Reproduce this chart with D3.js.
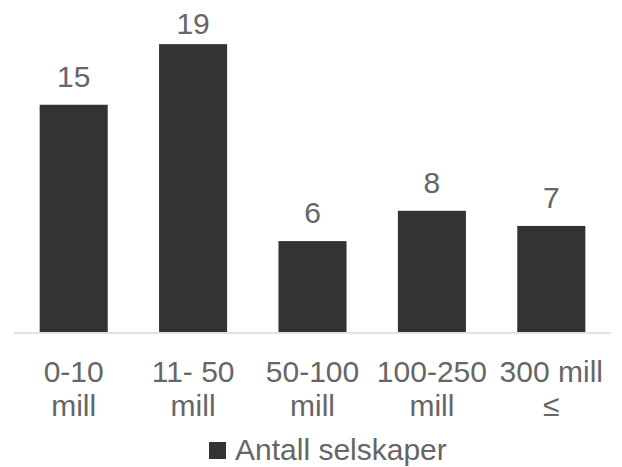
<!DOCTYPE html>
<html lang="no">
<head>
<meta charset="UTF-8">
<title>Antall selskaper</title>
<script src="https://cdn.jsdelivr.net/npm/d3@7"></script>
<style>
  body { margin: 0; background: #fff; }
  svg text { font-family: "Liberation Sans", Arial, sans-serif; fill: #666666; }
</style>
</head>
<body>
<div id="chart"></div>
<script>
// data
var categories = ["0-10 mill", "11- 50 mill", "50-100 mill", "100-250 mill", "300 mill ≤"];
var categoryLines = [["0-10", "mill"], ["11- 50", "mill"], ["50-100", "mill"], ["100-250", "mill"], ["300 mill", "≤"]];
var values = [15, 19, 6, 8, 7];
var seriesName = "Antall selskaper";

var width = 622, height = 467;
var plotLeft = 14, plotRight = 611, plotBase = 332, plotTop = 29;

var svg = d3.select("#chart").append("svg")
    .attr("width", width)
    .attr("height", height);

var x = d3.scaleBand()
    .domain(categories)
    .range([plotLeft, plotRight])
    .paddingInner(0.43)
    .paddingOuter(0.215);

var y = d3.scaleLinear()
    .domain([0, 20])
    .range([plotBase, plotTop]);

// bars
svg.selectAll("rect.bar")
    .data(values)
    .enter().append("rect")
    .attr("class", "bar")
    .attr("x", function(d, i) { return x(categories[i]); })
    .attr("y", function(d) { return y(d); })
    .attr("width", x.bandwidth())
    .attr("height", function(d) { return y(0) - y(d); })
    .attr("fill", "#323332");

// baseline
svg.append("line")
    .attr("x1", plotLeft).attr("x2", plotRight)
    .attr("y1", plotBase + 1).attr("y2", plotBase + 1)
    .attr("stroke", "#d9d9d9")
    .attr("stroke-width", 1.5);

// value labels (the tallest one is held inside the chart top)
svg.selectAll("text.val")
    .data(values)
    .enter().append("text")
    .attr("class", "val")
    .attr("x", function(d, i) { return x(categories[i]) + x.bandwidth() / 2; })
    .attr("y", function(d) { return Math.max(y(d) - 18, 34); })
    .attr("text-anchor", "middle")
    .style("font-size", "30px")
    .text(function(d) { return d; });

// category labels (two lines each)
var cat = svg.selectAll("text.cat")
    .data(categories)
    .enter().append("text")
    .attr("class", "cat")
    .attr("text-anchor", "middle")
    .style("font-size", "30px");

cat.selectAll("tspan")
    .data(function(d, i) {
        return categoryLines[i].map(function(t) { return { t: t, c: d }; });
    })
    .enter().append("tspan")
    .attr("x", function(d) { return x(d.c) + x.bandwidth() / 2; })
    .attr("y", function(d, j) { return 382 + j * 34; })
    .text(function(d) { return d.t; });

// legend
var legend = svg.append("g");
legend.append("rect")
    .attr("x", 209).attr("y", 442)
    .attr("width", 17).attr("height", 17)
    .attr("fill", "#323332");
legend.append("text")
    .attr("x", 235)
    .attr("y", 460)
    .style("font-size", "30px")
    .text(seriesName);
</script>
</body>
</html>
